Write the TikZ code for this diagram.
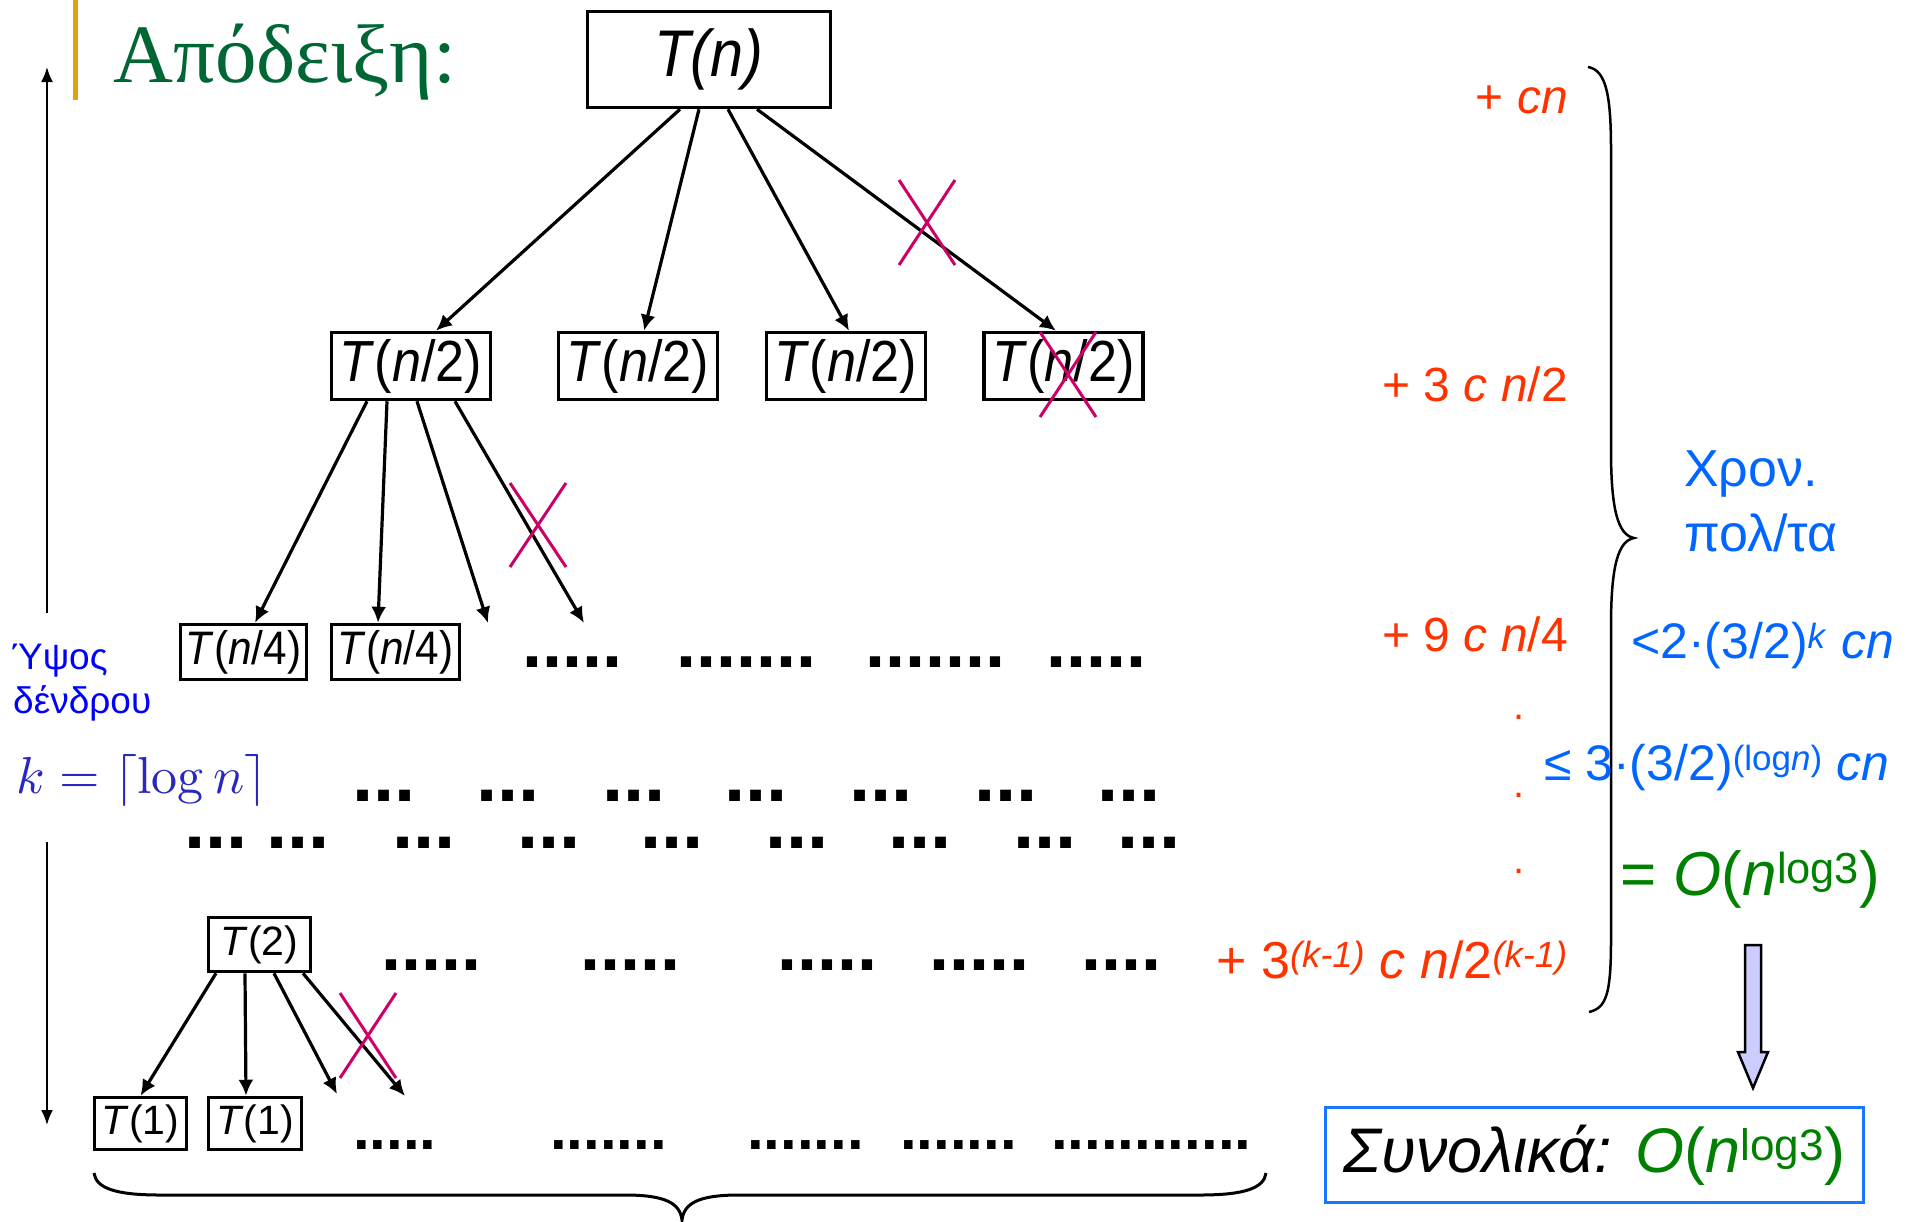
\documentclass[tikz,border=0pt]{standalone}
\usepackage[no-math]{fontspec}
\setmainfont{Liberation Sans}
\newfontfamily\serifgr{Liberation Serif}
\newfontfamily\dotfont{Liberation Sans Bold}
\usetikzlibrary{arrows.meta,calc}
\definecolor{titlegreen}{RGB}{0,102,51}
\definecolor{goldbar}{RGB}{221,164,18}
\definecolor{redorange}{RGB}{255,51,0}
\definecolor{skyblue}{RGB}{0,102,255}
\definecolor{okgreen}{RGB}{0,128,0}
\definecolor{xmag}{RGB}{204,0,102}
\definecolor{lav}{RGB}{204,204,255}
\definecolor{kblue}{RGB}{40,40,190}
\definecolor{pureblue}{RGB}{0,0,255}
\definecolor{boxblue}{RGB}{26,117,255}
\newcommand{\cx}[1]{\scalebox{0.9}[1]{#1}}
\newcommand{\fsz}[1]{\fontsize{#1}{#1}\selectfont}
\begin{document}
\begin{tikzpicture}[x=1pt,y=-1pt,
  tbox/.style={draw, line width=3.5pt, inner sep=0pt},
  arr/.style={-{Latex[length=16pt,width=15pt]}, line width=3.2pt},
  varr/.style={-{Latex[length=15pt,width=12pt]}, line width=2pt},
  xm/.style={draw=xmag, line width=3pt},
  bw/.style={anchor=base west, inner sep=0pt},
  be/.style={anchor=base east, inner sep=0pt},
  dw/.style={anchor=base west, inner sep=0pt, text height=9pt, text depth=0pt}]
\useasboundingbox (0,0) rectangle (1916,1221);

% title
\draw[goldbar, line width=5pt] (75,0) -- (75,100);
\node[bw, titlegreen, font=\serifgr\fsz{83}] (title) at (113,82) {Απόδειξη:};

% height arrow
\coordinate (vt) at (47,67);
\coordinate (vm1) at (47,613);
\coordinate (vm2) at (47,842);
\coordinate (vb) at (47,1125);
\draw[varr] (vm1) -- (vt);
\draw[varr] (vm2) -- (vb);
\node[bw, pureblue, font=\fsz{37}] (h1) at (11,669) {Ύψος};
\node[bw, pureblue, font=\fsz{37}] (h2) at (13,713) {δένδρου};
\node[bw, kblue] (keq) at (16,793) {\scalebox{5.2}{$k=\lceil\log n\rceil$}};

% tree nodes
\node[tbox, minimum width=243pt, minimum height=96pt, font=\fsz{66}] (Tn) at (709,59.5) {\cx{\textit{T(n)}}};
\node[tbox, minimum width=159pt, minimum height=67pt, font=\fsz{58}] (b1) at (411,366) {\cx{\textit{T}(\textit{n}/2)}};
\node[tbox, minimum width=159pt, minimum height=67pt, font=\fsz{58}] (b2) at (638,366) {\cx{\textit{T}(\textit{n}/2)}};
\node[tbox, minimum width=159pt, minimum height=67pt, font=\fsz{58}] (b3) at (846,366) {\cx{\textit{T}(\textit{n}/2)}};
\node[tbox, minimum width=159pt, minimum height=67pt, font=\fsz{58}] (b4) at (1063.5,366) {\cx{\textit{T}(\textit{n}/2)}};
\node[tbox, minimum width=126pt, minimum height=55pt, font=\fsz{47}] (c1) at (243.5,652) {\cx{\textit{T}(\textit{n}/4)}};
\node[tbox, minimum width=128pt, minimum height=55pt, font=\fsz{47}] (c2) at (395.5,652) {\cx{\textit{T}(\textit{n}/4)}};
\node[tbox, minimum width=102pt, minimum height=54pt, font=\fsz{41}] (t2) at (259.5,944.5) {\textit{T}(2)};
\node[tbox, minimum width=92pt, minimum height=52pt, font=\fsz{41}] (d1) at (140.5,1123.5) {\textit{T}(1)};
\node[tbox, minimum width=93pt, minimum height=52pt, font=\fsz{41}] (d2) at (255,1123.5) {\textit{T}(1)};

% arrows level 0 -> 1
\draw[arr] ($(Tn.south)+(-29,0)$) -- ($(b1.north)+(25,0)$);
\draw[arr] ($(Tn.south)+(-10,0)$) -- ($(b2.north)+(6,0)$);
\draw[arr] ($(Tn.south)+(19,0)$) -- ($(b3.north)+(3,0)$);
\draw[arr] ($(Tn.south)+(48,0)$) -- ($(b4.north)+(-7.5,0)$);
\draw[xm] (899,180) -- (955,265);
\draw[xm] (955,180) -- (899,265);
\draw[xm] (1040,332) -- (1096,417);
\draw[xm] (1096,332) -- (1040,417);

% arrows level 1 -> 2
\coordinate (e3) at (488,623);
\coordinate (e4) at (584,623);
\draw[arr] ($(b1.south)+(-44,0)$) -- ($(c1.north)+(11.5,0)$);
\draw[arr] ($(b1.south)+(-24,0)$) -- ($(c2.north)+(-17.5,0)$);
\draw[arr] ($(b1.south)+(6,0)$) -- (e3);
\draw[arr] ($(b1.south)+(44,0)$) -- (e4);
\draw[xm] (510,483) -- (566,567);
\draw[xm] (566,483) -- (510,567);

% arrows T(2) -> T(1)
\coordinate (f3) at (337,1094);
\coordinate (f4) at (405,1096);
\draw[arr] ($(t2.south)+(-43.5,0)$) -- ($(d1.north)+(0,0)$);
\draw[arr] ($(t2.south)+(-14.5,0)$) -- ($(d2.north)+(-9,0)$);
\draw[arr] ($(t2.south)+(14.5,0)$) -- (f3);
\draw[arr] ($(t2.south)+(43.5,0)$) -- (f4);
\draw[xm] (340,993) -- (396,1078);
\draw[xm] (396,993) -- (340,1078);

% dot rows
\node[dw, font=\dotfont\fsz{72}] (r1a) at (522,667) {.....};
\node[dw, font=\dotfont\fsz{72}] (r1b) at (676,667) {.......};
\node[dw, font=\dotfont\fsz{72}] (r1c) at (865,667) {.......};
\node[dw, font=\dotfont\fsz{72}] (r1d) at (1046,667) {.....};

\node[dw, font=\dotfont\fsz{76}] (ra1) at (352,801) {...};
\node[dw, font=\dotfont\fsz{76}] (ra2) at (476,801) {...};
\node[dw, font=\dotfont\fsz{76}] (ra3) at (602,801) {...};
\node[dw, font=\dotfont\fsz{76}] (ra4) at (724,801) {...};
\node[dw, font=\dotfont\fsz{76}] (ra5) at (849,801) {...};
\node[dw, font=\dotfont\fsz{76}] (ra6) at (974,801) {...};
\node[dw, font=\dotfont\fsz{76}] (ra7) at (1097,801) {...};

\node[dw, font=\dotfont\fsz{76}] (rb1) at (184,848) {...};
\node[dw, font=\dotfont\fsz{76}] (rb2) at (266,848) {...};
\node[dw, font=\dotfont\fsz{76}] (rb3) at (392,848) {...};
\node[dw, font=\dotfont\fsz{76}] (rb4) at (517,848) {...};
\node[dw, font=\dotfont\fsz{76}] (rb5) at (640,848) {...};
\node[dw, font=\dotfont\fsz{76}] (rb6) at (765,848) {...};
\node[dw, font=\dotfont\fsz{76}] (rb7) at (888,848) {...};
\node[dw, font=\dotfont\fsz{76}] (rb8) at (1013,848) {...};
\node[dw, font=\dotfont\fsz{76}] (rb9) at (1117,848) {...};

\node[dw, font=\dotfont\fsz{72}] (rt1) at (381,970) {.....};
\node[dw, font=\dotfont\fsz{72}] (rt2) at (580,970) {.....};
\node[dw, font=\dotfont\fsz{72}] (rt3) at (777,970) {.....};
\node[dw, font=\dotfont\fsz{72}] (rt4) at (929,970) {.....};
\node[dw, font=\dotfont\fsz{72}] (rt5) at (1081,970) {....};

\node[dw, font=\dotfont\fsz{60}] (rs1) at (353,1149) {.....};
\node[dw, font=\dotfont\fsz{60}] (rs2) at (550,1149) {.......};
\node[dw, font=\dotfont\fsz{60}] (rs3) at (747,1149) {.......};
\node[dw, font=\dotfont\fsz{60}] (rs4) at (900,1149) {.......};
\node[dw, font=\dotfont\fsz{60}] (rs5) at (1051,1149) {............};

% bottom brace
\draw[line width=3pt] (94,1173) .. controls (96,1188) and (115,1195) .. (160,1195) -- (625,1195) .. controls (665,1195) and (680,1203) .. (682,1220) .. controls (684,1203) and (699,1195) .. (739,1195) -- (1200,1195) .. controls (1245,1195) and (1264,1188) .. (1266,1173);

% cost labels
\node[be, redorange, font=\fsz{48}] (l0) at (1568,113) {+ \textit{cn}};
\node[be, redorange, font=\fsz{48}] (l1) at (1568,401) {+ 3 \textit{c n}/2};
\node[be, redorange, font=\fsz{48}] (l2) at (1568,651) {+ 9 \textit{c n}/4};
\node[redorange, font=\fsz{40}, inner sep=0pt] (o1) at (1519,717) {.};
\node[redorange, font=\fsz{40}, inner sep=0pt] (o2) at (1519,795) {.};
\node[redorange, font=\fsz{40}, inner sep=0pt] (o3) at (1519,871) {.};
\node[be, redorange, font=\fsz{52}] (l3) at (1568,978) {+ 3\textsuperscript{\itshape(k-1)} \textit{c n}/2\textsuperscript{\itshape(k-1)}};

% right brace
\draw[line width=2.5pt] (1588,67) .. controls (1606,70) and (1611,95) .. (1611,150) -- (1611,450) .. controls (1611,510) and (1618,535) .. (1634,538) .. controls (1618,541) and (1611,566) .. (1611,626) -- (1611,940) .. controls (1611,995) and (1606,1008) .. (1589,1012);

\node[bw, skyblue, font=\fsz{52}] (p1) at (1684,486) {Χρον.};
\node[bw, skyblue, font=\fsz{52}] (p2) at (1684,551) {πολ/τα};
\node[bw, skyblue, font=\fsz{50}] (eq1) at (1631,658) {<2·(3/2)\textsuperscript{\textit{k}} \textit{cn}};
\node[bw, skyblue, font=\fsz{50}] (eq2) at (1544,780) {≤ 3·(3/2)\textsuperscript{(log\textit{n})} \textit{cn}};
\node[bw, okgreen, font=\fsz{62}] (eq3) at (1620,895) {= \textit{O}(\textit{n}\textsuperscript{log3})};

% block arrow
\draw[fill=lav, line width=2.5pt, line join=miter] (1745,945) -- (1761,945) -- (1761,1052) -- (1768,1052) -- (1753,1088) -- (1738,1052) -- (1745,1052) -- cycle;

% final box
\node[draw=boxblue, line width=3pt, inner sep=0pt, minimum width=538pt, minimum height=95pt, font=\fsz{63}] (fin) at (1594.5,1155) {\textit{Συνολικά:} \textcolor{okgreen}{\textit{O}(\textit{n}\textsuperscript{log3})}};
\end{tikzpicture}
\end{document}
